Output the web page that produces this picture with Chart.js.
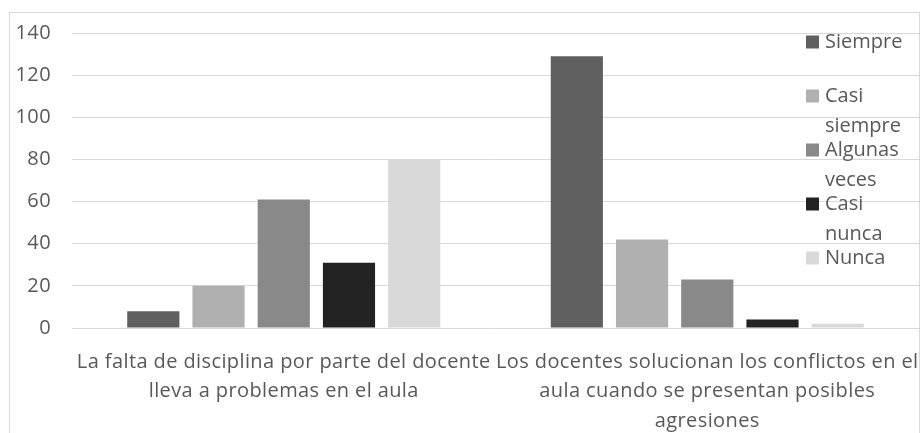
<!DOCTYPE html>
<html>
<head>
<meta charset="utf-8">
<script src="https://cdn.jsdelivr.net/npm/chart.js@4"></script>
<style>
    html, body { margin: 0; padding: 0; background: #fff; }
    #wrap { width: 921px; height: 433px; position: relative; }
</style>
</head>
<body>
<div id="wrap"><canvas id="surveyChart" width="921" height="433"></canvas></div>
<script>
// Survey answers per statement

const categories = [
    ['La falta de disciplina por parte del docente', 'lleva a problemas en el aula'],
    ['Los docentes solucionan los conflictos en el', 'aula cuando se presentan posibles', 'agresiones']
];
const seriesNames = ['Siempre', 'Casi siempre', 'Algunas veces', 'Casi nunca', 'Nunca'];
const siempre = [8, 129];
const casiSiempre = [20, 42];
const algunasVeces = [61, 23];
const casiNunca = [31, 4];
const nunca = [80, 2];
const yTicks = [0, 20, 40, 60, 80, 100, 120, 140];

const seriesValues = [siempre, casiSiempre, algunasVeces, casiNunca, nunca];
const seriesColors = ['#606060', '#b0b0b0', '#898989', '#222222', '#d9d9d9'];

const FONT = '"Open Sans", "DejaVu Sans", sans-serif';
const TEXT_COLOR = '#595959';
const LINE_COLOR = '#d9d9d9';

// outer frame of the chart, plus a touch of letter spacing for the axis text
const framePlugin = {
    id: 'frame',
    beforeDraw(chart) {
        const ctx = chart.ctx;
        ctx.save();
        ctx.strokeStyle = LINE_COLOR;
        ctx.lineWidth = 1;
        ctx.strokeRect(9.5, 12.5, 910, 500);
        ctx.restore();
        ctx.letterSpacing = '0.4px';
    }
};

// legend drawn by hand so the names can wrap like the original
const legendPlugin = {
    id: 'wrappedLegend',
    afterDraw(chart) {
        const ctx = chart.ctx;
        const boxX = 806, textX = 825, startY = 42, itemGap = 54, lineGap = 30, box = 13;
        ctx.save();
        ctx.letterSpacing = '0px';
        ctx.font = '20px ' + FONT;
        ctx.textBaseline = 'middle';
        chart.data.datasets.forEach((ds, i) => {
            const y = startY + i * itemGap;
            ctx.fillStyle = ds.backgroundColor;
            ctx.fillRect(boxX, y - box / 2, box, box);
            ctx.fillStyle = TEXT_COLOR;
            ds.label.split(' ').forEach((word, j) => {
                ctx.fillText(word, textX, y + j * lineGap);
            });
        });
        ctx.restore();
    }
};

const ctx = document.getElementById('surveyChart').getContext('2d');
new Chart(ctx, {
    type: 'bar',
    data: {
        labels: categories,
        datasets: seriesNames.map((name, i) => ({
            label: name,
            data: seriesValues[i],
            backgroundColor: seriesColors[i],
            borderWidth: 0,
            categoryPercentage: 0.77,
            barPercentage: 0.8
        }))
    },
    options: {
        responsive: false,
        animation: false,
        layout: { padding: { top: 33, right: 1, left: 0, bottom: 0 } },
        plugins: {
            legend: { display: false },
            tooltip: { enabled: false }
        },
        scales: {
            x: {
                grid: { display: false },
                border: { display: false },
                ticks: {
                    color: TEXT_COLOR,
                    font: { family: FONT, size: 20, lineHeight: 1.48 },
                    maxRotation: 0,
                    minRotation: 0,
                    autoSkip: false,
                    padding: 11
                },
                afterFit(scale) { scale.height = 105; }
            },
            y: {
                min: 0,
                max: 140,
                afterBuildTicks(scale) { scale.ticks = yTicks.map(v => ({ value: v })); },
                grid: { color: LINE_COLOR, lineWidth: 1, drawTicks: false },
                border: { display: false },
                ticks: {
                    color: TEXT_COLOR,
                    font: { family: FONT, size: 20 },
                    padding: 21
                },
                afterFit(scale) { scale.width = 72; }
            }
        }
    },
    plugins: [framePlugin, legendPlugin]
});
</script>
</body>
</html>
